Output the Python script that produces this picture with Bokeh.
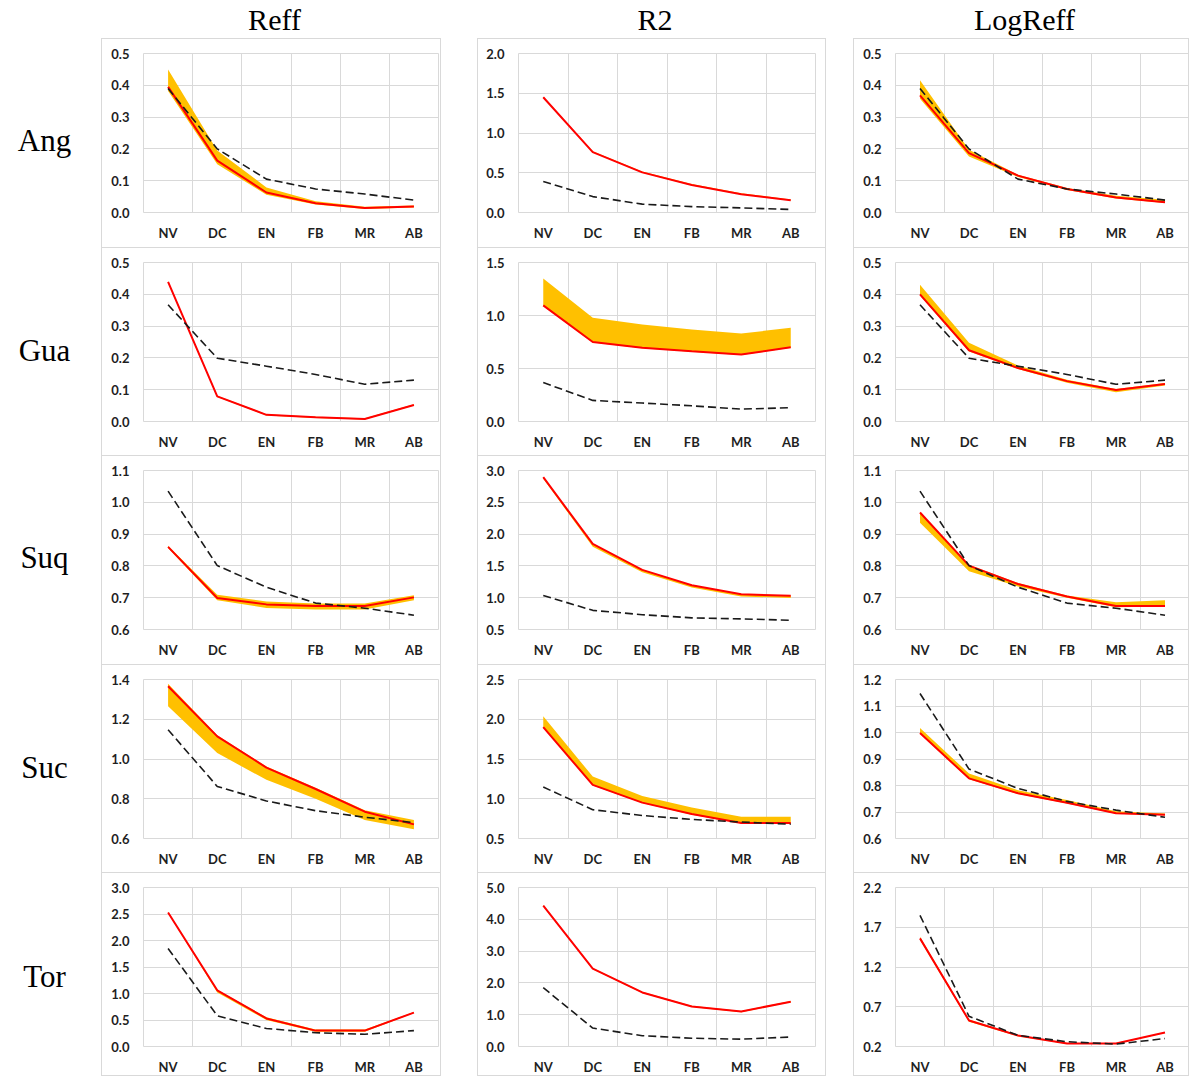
from bokeh.plotting import figure
from bokeh.layouts import row, column
from bokeh.models import Range1d, FixedTicker, Spacer, NumeralTickFormatter
from bokeh.core.properties import value
from bokeh.embed import file_html
from bokeh.resources import INLINE

# ---------------- data ----------------
cats = ["NV", "DC", "EN", "FB", "MR", "AB"]
row_names = ["Ang", "Gua", "Suq", "Suc", "Tor"]
col_names = ["Reff", "R2", "LogReff"]

# observed (black dashed) per row
obs_ang = [0.390, 0.200, 0.105, 0.074, 0.058, 0.039]
obs_gua = [0.367, 0.199, 0.174, 0.148, 0.117, 0.130]
obs_suq = [1.035, 0.801, 0.733, 0.683, 0.667, 0.645]
obs_suc = [1.147, 0.862, 0.789, 0.740, 0.707, 0.680]
obs_tor = [1.850, 0.580, 0.340, 0.260, 0.230, 0.300]

# Ang
ang_reff_mid = [0.395, 0.163, 0.063, 0.029, 0.014, 0.019]
ang_reff_lo = [0.382, 0.152, 0.056, 0.025, 0.011, 0.016]
ang_reff_hi = [0.450, 0.195, 0.079, 0.035, 0.018, 0.022]
ang_r2_mid = [1.450, 0.760, 0.505, 0.345, 0.230, 0.155]
ang_r2_lo = [1.445, 0.755, 0.500, 0.340, 0.225, 0.150]
ang_r2_hi = [1.455, 0.770, 0.515, 0.357, 0.242, 0.165]
ang_log_mid = [0.368, 0.187, 0.116, 0.074, 0.047, 0.032]
ang_log_lo = [0.358, 0.176, 0.112, 0.071, 0.044, 0.030]
ang_log_hi = [0.416, 0.197, 0.119, 0.077, 0.053, 0.040]
# Gua
gua_reff_mid = [0.439, 0.079, 0.021, 0.013, 0.008, 0.052]
gua_reff_lo = [0.437, 0.077, 0.019, 0.011, 0.006, 0.050]
gua_reff_hi = [0.441, 0.081, 0.023, 0.015, 0.010, 0.054]
gua_r2_mid = [1.096, 0.750, 0.695, 0.663, 0.632, 0.700]
gua_r2_lo = [1.090, 0.745, 0.690, 0.658, 0.627, 0.695]
gua_r2_hi = [1.348, 0.979, 0.916, 0.868, 0.830, 0.884]
gua_log_mid = [0.400, 0.224, 0.168, 0.127, 0.099, 0.118]
gua_log_lo = [0.396, 0.220, 0.165, 0.122, 0.092, 0.113]
gua_log_hi = [0.430, 0.248, 0.176, 0.131, 0.102, 0.121]
# Suq
suq_reff_mid = [0.860, 0.699, 0.679, 0.674, 0.674, 0.701]
suq_reff_lo = [0.856, 0.692, 0.668, 0.663, 0.663, 0.692]
suq_reff_hi = [0.863, 0.709, 0.688, 0.682, 0.682, 0.708]
suq_r2_mid = [2.895, 1.845, 1.437, 1.195, 1.053, 1.030]
suq_r2_lo = [2.870, 1.800, 1.400, 1.160, 1.020, 0.995]
suq_r2_hi = [2.900, 1.850, 1.445, 1.200, 1.058, 1.035]
suq_log_mid = [0.968, 0.801, 0.743, 0.704, 0.674, 0.674]
suq_log_lo = [0.936, 0.783, 0.735, 0.700, 0.670, 0.672]
suq_log_hi = [0.968, 0.803, 0.746, 0.707, 0.686, 0.692]
# Suc
suc_reff_mid = [1.366, 1.114, 0.957, 0.849, 0.735, 0.671]
suc_reff_lo = [1.265, 1.030, 0.895, 0.800, 0.693, 0.647]
suc_reff_hi = [1.378, 1.120, 0.962, 0.855, 0.742, 0.693]
suc_r2_mid = [1.902, 1.174, 0.951, 0.807, 0.694, 0.694]
suc_r2_lo = [1.895, 1.168, 0.945, 0.800, 0.690, 0.690]
suc_r2_hi = [2.037, 1.279, 1.035, 0.891, 0.774, 0.774]
suc_log_mid = [0.998, 0.827, 0.771, 0.735, 0.695, 0.690]
suc_log_lo = [0.995, 0.824, 0.768, 0.732, 0.693, 0.688]
suc_log_hi = [1.017, 0.845, 0.782, 0.745, 0.703, 0.694]
# Tor
tor_reff_mid = [2.53, 1.06, 0.53, 0.30, 0.30, 0.64]
tor_reff_lo = [2.52, 1.02, 0.50, 0.28, 0.28, 0.63]
tor_reff_hi = [2.54, 1.07, 0.55, 0.32, 0.32, 0.65]
tor_r2_mid = [4.43, 2.45, 1.70, 1.26, 1.10, 1.41]
tor_r2_lo = [4.41, 2.43, 1.68, 1.24, 1.08, 1.39]
tor_r2_hi = [4.45, 2.47, 1.72, 1.28, 1.12, 1.43]
tor_log_mid = [1.56, 0.527, 0.338, 0.238, 0.238, 0.376]
tor_log_lo = [1.54, 0.510, 0.330, 0.232, 0.232, 0.370]
tor_log_hi = [1.58, 0.540, 0.345, 0.244, 0.244, 0.380]

# y tick values per panel
ticks_ang = [[0.0, 0.1, 0.2, 0.3, 0.4, 0.5], [0.0, 0.5, 1.0, 1.5, 2.0], [0.0, 0.1, 0.2, 0.3, 0.4, 0.5]]
ticks_gua = [[0.0, 0.1, 0.2, 0.3, 0.4, 0.5], [0.0, 0.5, 1.0, 1.5], [0.0, 0.1, 0.2, 0.3, 0.4, 0.5]]
ticks_suq = [[0.6, 0.7, 0.8, 0.9, 1.0, 1.1], [0.5, 1.0, 1.5, 2.0, 2.5, 3.0], [0.6, 0.7, 0.8, 0.9, 1.0, 1.1]]
ticks_suc = [[0.6, 0.8, 1.0, 1.2, 1.4], [0.5, 1.0, 1.5, 2.0, 2.5], [0.6, 0.7, 0.8, 0.9, 1.0, 1.1, 1.2]]
ticks_tor = [[0.0, 0.5, 1.0, 1.5, 2.0, 2.5, 3.0], [0.0, 1.0, 2.0, 3.0, 4.0, 5.0], [0.2, 0.7, 1.2, 1.7, 2.2]]

panels = [
    (obs_ang, ticks_ang, [(ang_reff_mid, ang_reff_lo, ang_reff_hi), (ang_r2_mid, ang_r2_lo, ang_r2_hi), (ang_log_mid, ang_log_lo, ang_log_hi)]),
    (obs_gua, ticks_gua, [(gua_reff_mid, gua_reff_lo, gua_reff_hi), (gua_r2_mid, gua_r2_lo, gua_r2_hi), (gua_log_mid, gua_log_lo, gua_log_hi)]),
    (obs_suq, ticks_suq, [(suq_reff_mid, suq_reff_lo, suq_reff_hi), (suq_r2_mid, suq_r2_lo, suq_r2_hi), (suq_log_mid, suq_log_lo, suq_log_hi)]),
    (obs_suc, ticks_suc, [(suc_reff_mid, suc_reff_lo, suc_reff_hi), (suc_r2_mid, suc_r2_lo, suc_r2_hi), (suc_log_mid, suc_log_lo, suc_log_hi)]),
    (obs_tor, ticks_tor, [(tor_reff_mid, tor_reff_lo, tor_reff_hi), (tor_r2_mid, tor_r2_lo, tor_r2_hi), (tor_log_mid, tor_log_lo, tor_log_hi)]),
]

# ---------------- layout ----------------
LABEL_W = 101
GAP1, GAP2 = 36, 27
col_w = [340, 349, 336]
col_bl = [41, 40, 41]
col_br = [4, 12, 1]
row_h = [209, 208, 209, 208, 204]
TITLE_H = 38
FRAME_TOP = 14
FRAME_H = 158
GRID = "#d9d9d9"
LBL_FONT = "Lato"
SERIF = "Liberation Serif"

xs = [i + 0.5 for i in range(len(cats))]


def make_panel(w, bl, br, h, ticks, mid, lo, hi, obs, last):
    p = figure(width=w, height=h, output_backend="svg", toolbar_location=None, tools="",
               x_range=Range1d(0, len(cats)), y_range=Range1d(ticks[0], ticks[-1]),
               min_border_left=bl, min_border_right=br, min_border_top=FRAME_TOP,
               min_border_bottom=h - 1 - FRAME_TOP - FRAME_H)
    p.title = None
    border = "1px solid " + GRID
    st = {"border-top": border, "border-left": border, "border-right": border}
    if last:
        st["border-bottom"] = border
    p.styles = st
    p.outline_line_color = GRID
    p.background_fill_color = "white"
    p.border_fill_color = "white"
    p.xaxis.ticker = FixedTicker(ticks=xs)
    p.xaxis.major_label_overrides = {x: c for x, c in zip(xs, cats)}
    p.xgrid.ticker = FixedTicker(ticks=list(range(len(cats) + 1)))
    p.yaxis.ticker = FixedTicker(ticks=ticks)
    p.yaxis.formatter = NumeralTickFormatter(format="0.0")
    for ax in (p.xaxis, p.yaxis):
        ax.axis_line_color = None
        ax.major_tick_line_color = None
        ax.minor_tick_line_color = None
        ax.major_tick_out = 0
        ax.major_tick_in = 0
        ax.major_label_text_font = LBL_FONT
        ax.major_label_text_font_style = "bold"
        ax.major_label_text_font_size = "13px"
        ax.major_label_text_color = "#1f1f1f"
    p.xaxis.major_label_standoff = 12
    p.yaxis.major_label_standoff = 14
    p.grid.grid_line_color = GRID
    p.grid.grid_line_width = 1
    p.varea(x=xs, y1=lo, y2=hi, fill_color="#FFC000", fill_alpha=1.0)
    p.line(x=xs, y=mid, line_color="#FF0000", line_width=2)
    p.line(x=xs, y=obs, line_color="#1a1a1a", line_width=1.6, line_dash="8 4")
    return p


def text_fig(w, h, txt, x, baseline_from_top, size="31px"):
    p = figure(width=w, height=h, output_backend="svg", toolbar_location=None, tools="",
               x_range=Range1d(0, w), y_range=Range1d(0, h), x_axis_type=None, y_axis_type=None,
               min_border=0)
    p.title = None
    p.outline_line_color = None
    p.grid.visible = False
    p.text(x=[x], y=[h - baseline_from_top], text=[txt], text_align="center",
           text_baseline="alphabetic",
           text_font=value(SERIF), text_font_size=size, text_color="black")
    return p


rows_out = []
title_row = [Spacer(width=LABEL_W, height=TITLE_H)]
for j, cn in enumerate(col_names):
    title_row.append(text_fig(col_w[j], TITLE_H, cn, col_w[j] / 2 + 3, 19, "30px"))
    if j == 0:
        title_row.append(Spacer(width=GAP1, height=TITLE_H))
    elif j == 1:
        title_row.append(Spacer(width=GAP2, height=TITLE_H))
rows_out.append(row(title_row))

for i, (obs, tks, series) in enumerate(panels):
    h = row_h[i]
    items = [text_fig(LABEL_W, h, row_names[i], 44, 116)]
    for j in range(3):
        mid, lo, hi = series[j]
        items.append(make_panel(col_w[j], col_bl[j], col_br[j], h, tks[j], mid, lo, hi, obs,
                                i == len(panels) - 1))
        if j == 0:
            items.append(Spacer(width=GAP1, height=h))
        elif j == 1:
            items.append(Spacer(width=GAP2, height=h))
    rows_out.append(row(items))

layout = column(rows_out)
open("out.html", "w").write(file_html(layout, INLINE))
